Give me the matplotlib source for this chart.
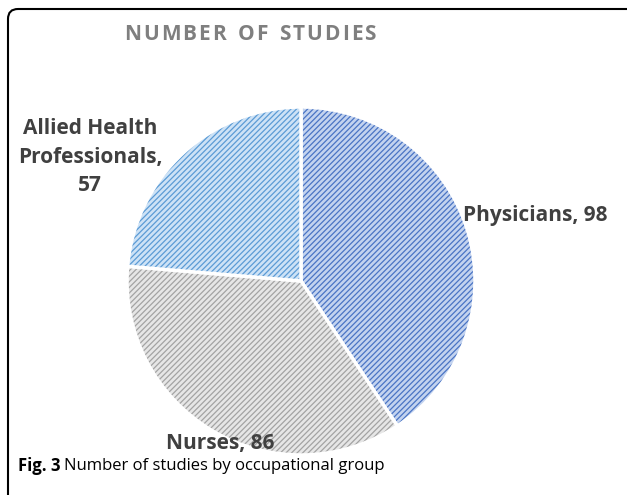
import matplotlib
matplotlib.use("Agg")
import matplotlib.pyplot as plt
from matplotlib.path import Path
from matplotlib.patches import PathPatch

# data
groups = ["Physicians", "Nurses", "Allied Health\nProfessionals"]
studies = [98, 86, 57]
faces = ["#c3d3ef", "#e6e6e6", "#cde2f6"]
hatch_cols = ["#4a74c4", "#a3a3a3", "#5b9bd5"]
title = "NUMBER OF STUDIES"
caption_bold = "Fig. 3"
caption = "Number of studies by occupational group"

W, H = 627, 495
plt.rcParams["font.family"] = ["Open Sans", "DejaVu Sans"]
fig = plt.figure(figsize=(W / 100, H / 100), dpi=100)


def fx(px):
    return px / W


def fy(py):
    return 1 - py / H


# frame open to the right and bottom, rounded top-left corner (pixel coords)
verts = [(W + 20, 9), (18, 9), (8, 9), (8, 19), (8, H + 20)]
codes = [Path.MOVETO, Path.LINETO, Path.CURVE3, Path.CURVE3, Path.LINETO]
frame = PathPatch(Path([(fx(x), fy(y)) for x, y in verts], codes),
                  transform=fig.transFigure, fill=False,
                  edgecolor="black", linewidth=1.5, clip_on=False)
fig.patches.append(frame)

# pie axes: center (301, 281), radius 174 px
r = 174
cx, cy = 301, 281
ax = fig.add_axes([fx(cx - r), fy(cy + r), 2 * r / W, 2 * r / H])
wedges, _ = ax.pie(studies, startangle=90, counterclock=False,
                   colors=faces, radius=1.0,
                   wedgeprops=dict(edgecolor="white", linewidth=2.5))
for w, hc in zip(wedges, hatch_cols):
    w.set_hatch("//////")
    w._hatch_color = matplotlib.colors.to_rgba(hc)
    if hasattr(w, "set_hatch_linewidth"):
        w.set_hatch_linewidth(0.9)
ax.set_xlim(-1, 1)
ax.set_ylim(-1, 1)
ax.set_aspect("auto")
ax.axis("off")

lab = dict(fontsize=15, fontweight="bold", color="#404040")
fig.text(fx(463), fy(215), f"{groups[0]}, {studies[0]}", ha="left", va="center", **lab)
fig.text(fx(220), fy(443), f"{groups[1]}, {studies[1]}", ha="center", va="center", **lab)
fig.text(fx(90), fy(157), f"{groups[2]},\n{studies[2]}", ha="center", va="center",
         linespacing=1.45, **lab)

# letter-spaced title, drawn char by char
fig.canvas.draw()
renderer = fig.canvas.get_renderer()
tk = dict(fontsize=15, fontweight="bold", color="#7f7f7f", va="center", ha="left")
track = 2.0
widths = []
for ch in title:
    t = fig.text(0, 0, ch if ch != " " else "n", **tk)
    widths.append(t.get_window_extent(renderer).width * (0.55 if ch == " " else 1))
    t.remove()
total = sum(widths) + track * (len(title) - 1)
x = 250 - total / 2
for ch, wd in zip(title, widths):
    if ch != " ":
        fig.text(fx(x), fy(35), ch, **tk)
    x += wd + track

# caption
t1 = fig.text(fx(18), fy(466), caption_bold, ha="left", va="center", fontsize=12,
              fontweight="bold", color="black")
bb = t1.get_window_extent(renderer)
fig.text(fx(bb.x1 + 4), fy(466), caption, ha="left", va="center", fontsize=12, color="black")

fig.savefig("out.png", dpi=100)
